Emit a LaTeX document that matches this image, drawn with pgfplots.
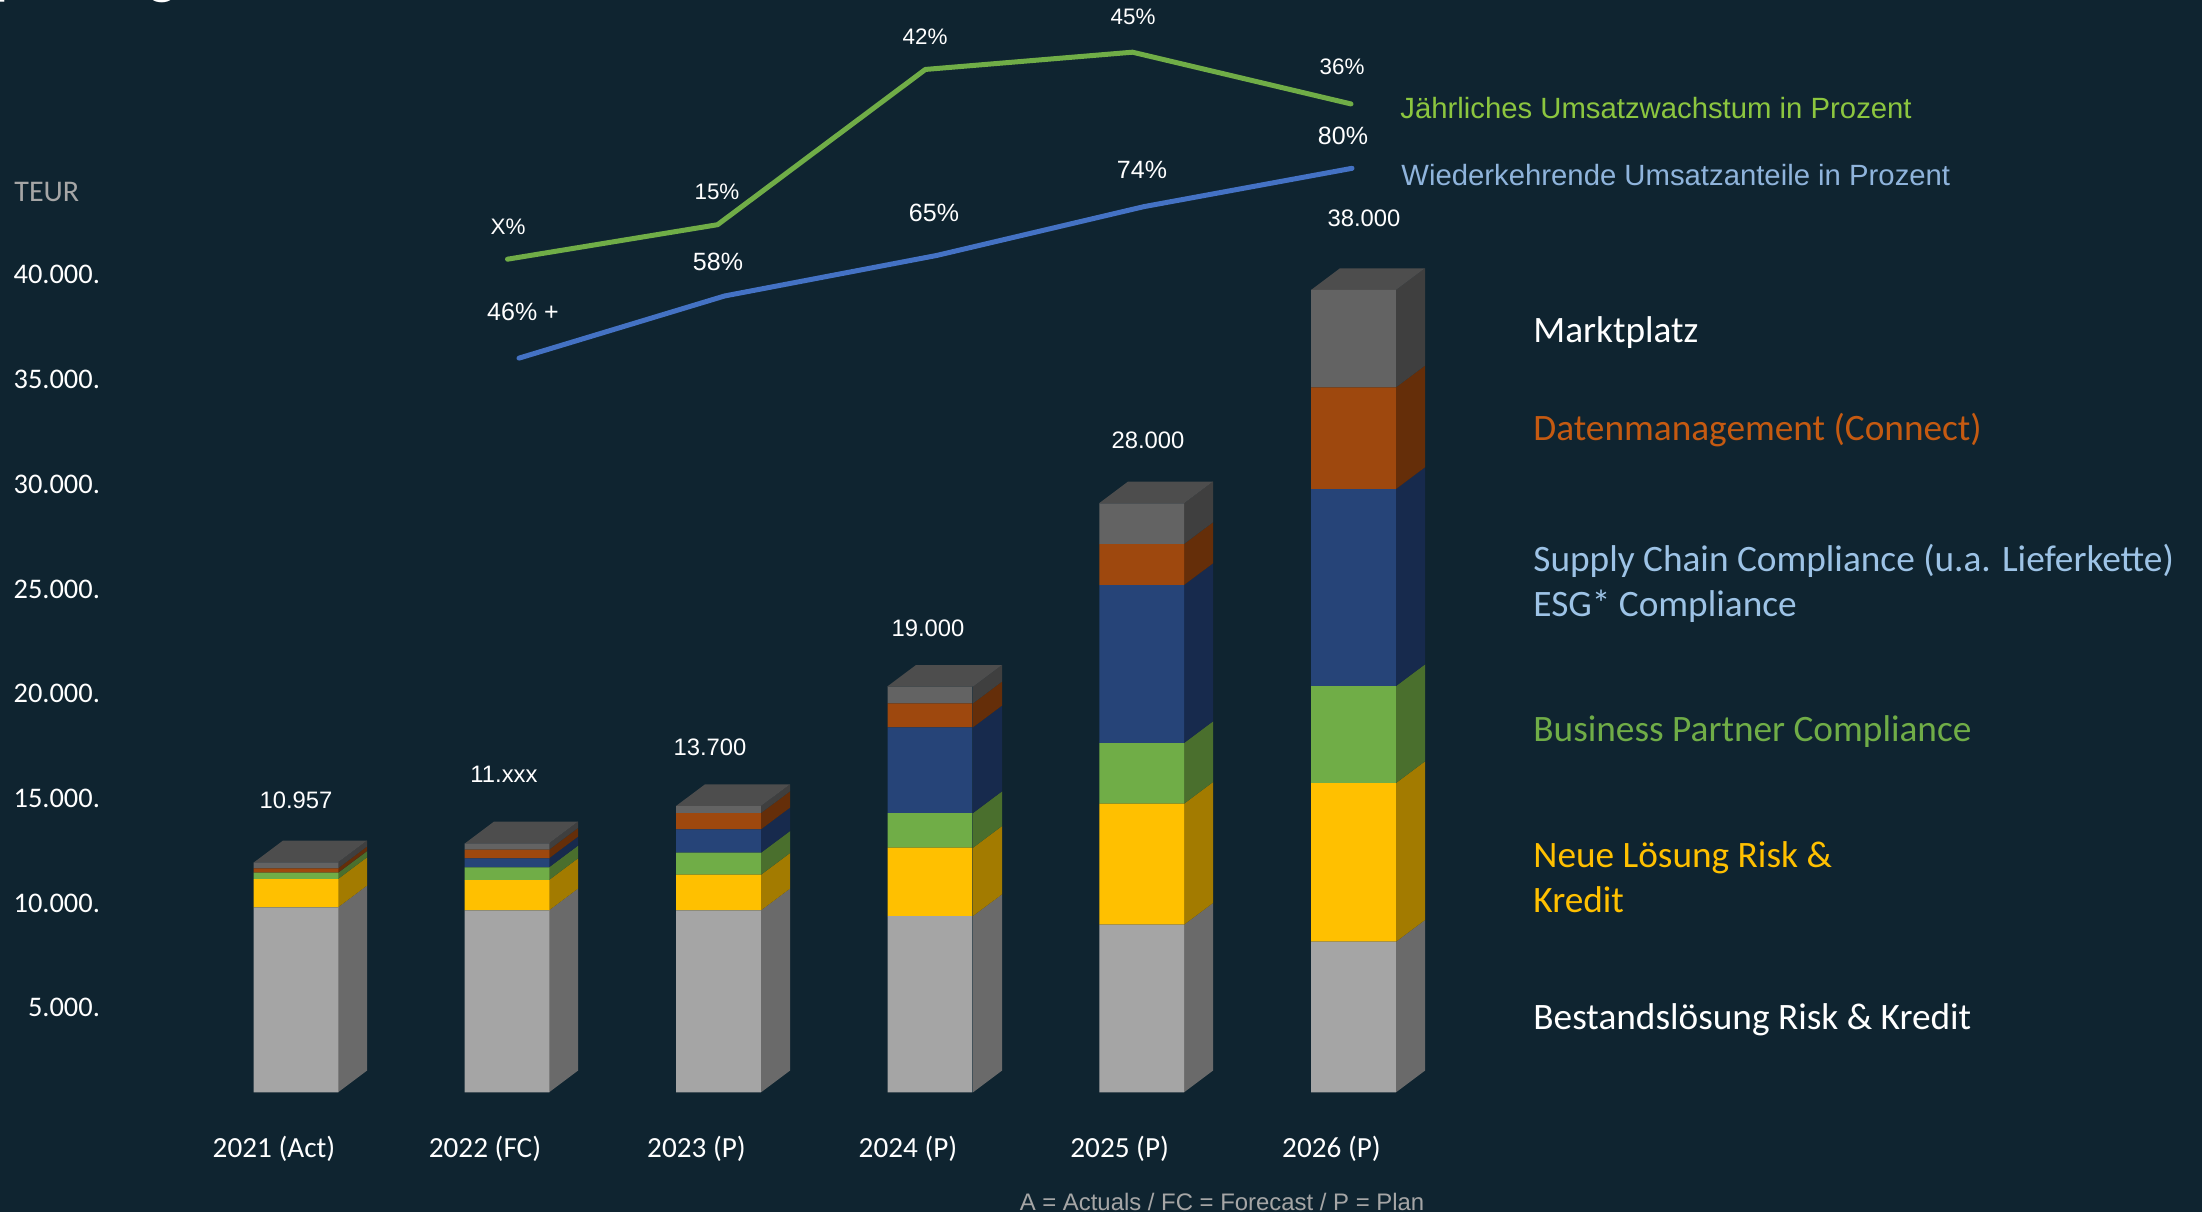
\documentclass[border=0pt]{standalone}
\usepackage{fontspec}
\setmainfont{Liberation Sans}
\newfontfamily\carl{Carlito}
\usepackage{pgfplots}
\usepackage{pgfplotstable}
\pgfplotsset{compat=1.18}
\definecolor{bg}{HTML}{0F2430}
\definecolor{cA}{HTML}{A5A5A5}\definecolor{sA}{HTML}{6A6A6A}
\definecolor{cB}{HTML}{FFC000}\definecolor{sB}{HTML}{A37B00}
\definecolor{cC}{HTML}{70AD47}\definecolor{sC}{HTML}{4A6F2D}
\definecolor{cD}{HTML}{264478}\definecolor{sD}{HTML}{172A4D}
\definecolor{cE}{HTML}{9E480E}\definecolor{sE}{HTML}{652E09}
\definecolor{cF}{HTML}{636363}\definecolor{sF}{HTML}{3F3F3F}
\definecolor{tp}{HTML}{4D4D4D}
\definecolor{lgreen}{HTML}{70AD47}\definecolor{lblue}{HTML}{4472C4}
\definecolor{tgreen}{HTML}{8CC63F}\definecolor{tblue}{HTML}{8FB4DC}
\definecolor{tbrown}{HTML}{C55A11}\definecolor{tlblue}{HTML}{9DC3E6}
\definecolor{tbiz}{HTML}{70AD47}
\definecolor{foot}{HTML}{A6A6A6}
\pgfplotstableread{
x    base  neu   bp    sc    dm    mp
296  8835  1351  301   0     210   287
507  8691  1447  606   430   411   306
718.5 8691 1700  1051  1117  778   334
930  8419  3262  1657  4093  1146  793
1141.7 8004 5778 2899  7545  1958  1944
1353.5 7192 7579 4632  9408  4857  4647
}\bars
\pgfplotstableread{
x    p
507.5 9
717.6 15
925.4 42
1132.5 45
1351 36
}\growth
\pgfplotstableread{
x    p
519  46.8
724.6 58
936.7 65.3
1144 74.1
1352 81
}\recurring
% one side face: right edge, lower and upper stack height, colour
\newcommand{\face}[4]{%
  \edef\xb{\the\numexpr#1+29\relax}\edef\ya{\the\numexpr#2+1036\relax}\edef\yb{\the\numexpr#3+1036\relax}%
  \edef\tmp{\noexpand\addplot[draw=none,fill=#4] coordinates {(#1,#2)(\xb,\ya)(\xb,\yb)(#1,#3)} --cycle;}\tmp}
% top face: left and right edge, stack height
\newcommand{\topf}[3]{%
  \edef\xa{\the\numexpr#1+29\relax}\edef\xb{\the\numexpr#2+29\relax}\edef\ya{\the\numexpr#3+1036\relax}%
  \edef\tmp{\noexpand\addplot[draw=none,fill=tp] coordinates {(#1,#3)(#2,#3)(\xb,\ya)(\xa,\ya)} --cycle;}\tmp}
\newcommand{\barf}[8]{% right edge, left edge, six cumulative heights
  \face{#1}{0}{#3}{sA}\face{#1}{#3}{#4}{sB}\face{#1}{#4}{#5}{sC}\face{#1}{#5}{#6}{sD}\face{#1}{#6}{#7}{sE}\face{#1}{#7}{#8}{sF}\topf{#2}{#1}{#8}}
\newcommand{\lab}[5][]{\node[text=#2,#1] at ({#3*0.5pt},{(1207-#4)*0.5pt}) {#5};}
\begin{document}
\begin{tikzpicture}
\path[use as bounding box,clip] (0,0) rectangle (1101pt,606pt);
\fill[bg] (0,0) rectangle (1101pt,606pt);
\pgfplotsset{base/.style={scale only axis,width=1101pt,height=606pt,xmin=0,xmax=2202,clip=false,at={(0,0)},anchor=south west}}
% 3-D side and top faces
\begin{axis}[base,hide axis,ymin=-5716,ymax=52164]
\barf{338}{254}{8835}{10186}{10487}{10487}{10697}{10984}
\barf{549}{465}{8691}{10138}{10744}{11174}{11585}{11891}
\barf{761}{676}{8691}{10391}{11442}{12559}{13337}{13671}
\barf{973}{887}{8419}{11681}{13338}{17431}{18577}{19370}
\barf{1184}{1099}{8004}{13782}{16681}{24226}{26184}{28128}
\barf{1396}{1311}{7192}{14771}{19403}{28811}{33668}{38315}
\end{axis}
% front faces of the stacked bars, with the axes' tick labels
\begin{axis}[base,ymin=-5716,ymax=52164,ybar stacked,bar width=42.4pt,
  axis line style={draw=none},major tick length=0pt,scaled y ticks=false,scaled x ticks=false,
  xtick={296,507,718.5,930,1141.7,1353.5},
  xticklabels={2021 (Act),2022 (FC),2023 (P),2024 (P),2025 (P),2026 (P)},
  ytick={5000,10000,15000,20000,25000,30000,35000,40000},
  yticklabels={5.000.,10.000.,15.000.,20.000.,25.000.,30.000.,35.000.,40.000.},
  xtick pos=bottom,ytick pos=left,
  xticklabel style={font=\carl\fontsize{14.6}{16}\selectfont,text=white,anchor=center,yshift=31.5pt,xshift=-11pt},
  yticklabel style={font=\carl\fontsize{14.2}{16}\selectfont,text=white,anchor=mid east,xshift=53.5pt,yshift=-12pt}]
\addplot[draw=none,fill=cA] table[x=x,y=base]{\bars};
\addplot[draw=none,fill=cB] table[x=x,y=neu]{\bars};
\addplot[draw=none,fill=cC] table[x=x,y=bp]{\bars};
\addplot[draw=none,fill=cD] table[x=x,y=sc]{\bars};
\addplot[draw=none,fill=cE] table[x=x,y=dm]{\bars};
\addplot[draw=none,fill=cF] table[x=x,y=mp]{\bars};
\end{axis}
% growth in percent
\begin{axis}[base,hide axis,ymin=-156.7,ymax=54.08]
\addplot[lgreen,line width=2.5pt,line cap=round,line join=round] table[x=x,y=p]{\growth};
\end{axis}
% recurring share in percent
\begin{axis}[base,hide axis,ymin=-107.05,ymax=111.33]
\addplot[lblue,line width=2.5pt,line cap=round,line join=round] table[x=x,y=p]{\recurring};
\end{axis}
% bar totals
\begin{scope}[font=\fontsize{11.9}{14}\selectfont,every node/.append style={anchor=mid}]
\lab{white}{296}{798}{10.957}
\lab{white}{504}{772}{11.xxx}
\lab{white}{710}{745}{13.700}
\lab{white}{928}{626}{19.000}
\lab{white}{1148}{438}{28.000}
\lab{white}{1364}{216}{38.000}
\end{scope}
% line labels
\begin{scope}[font=\fontsize{11.2}{14}\selectfont,every node/.append style={anchor=mid}]
\lab{white}{508}{224}{X\%}
\lab{white}{717}{189}{15\%}
\lab{white}{925}{34}{42\%}
\lab{white}{1133}{14}{45\%}
\lab{white}{1342}{64}{36\%}
\end{scope}
\begin{scope}[font=\fontsize{12.5}{14}\selectfont,every node/.append style={anchor=mid}]
\lab{white}{523}{310}{46\% +}
\lab{white}{718}{260}{58\%}
\lab{white}{934}{211}{65\%}
\lab{white}{1142}{168}{74\%}
\lab{white}{1343}{134}{80\%}
\end{scope}
\begin{scope}[font=\fontsize{14.65}{16}\selectfont,every node/.append style={anchor=mid west,inner sep=0pt}]
\lab{tgreen}{1400}{108}{Jährliches Umsatzwachstum in Prozent}
\lab{tblue}{1401}{175}{Wiederkehrende Umsatzanteile in Prozent}
\end{scope}
% series names
\begin{scope}[font=\carl\fontsize{18.65}{20}\selectfont,every node/.append style={anchor=mid west,inner sep=0pt}]
\lab{white}{1533}{332.5}{Marktplatz}
\lab{tbrown}{1533}{430.5}{Datenmanagement (Connect)}
\lab{tlblue}{1533}{561.5}{Supply Chain Compliance (u.a. Lieferkette)}
\lab{tlblue}{1533}{606.5}{ESG* Compliance}
\lab{tbiz}{1533}{731.5}{Business Partner Compliance}
\lab{cB}{1533}{857.5}{Neue Lösung Risk \&}
\lab{cB}{1533}{902.5}{Kredit}
\lab{white}{1533}{1019.5}{Bestandslösung Risk \& Kredit}
\end{scope}
\lab[font=\carl\fontsize{15}{17}\selectfont,anchor=mid west,inner sep=0pt]{foot}{14}{191}{TEUR}
\lab[font=\fontsize{11.95}{14}\selectfont,anchor=mid]{foot}{1222}{1200}{A = Actuals / FC = Forecast / P = Plan}
% what the picture's upper edge leaves of the cut-off title
\node[text=white,anchor=base west,inner sep=0pt,font=\carl\fontsize{30}{32}\selectfont] at (-2.5pt,609.5pt) {p};
\node[text=white,anchor=base,inner sep=0pt,font=\carl\fontsize{30}{32}\selectfont] at (81.5pt,609.5pt) {g};
\end{tikzpicture}
\end{document}
